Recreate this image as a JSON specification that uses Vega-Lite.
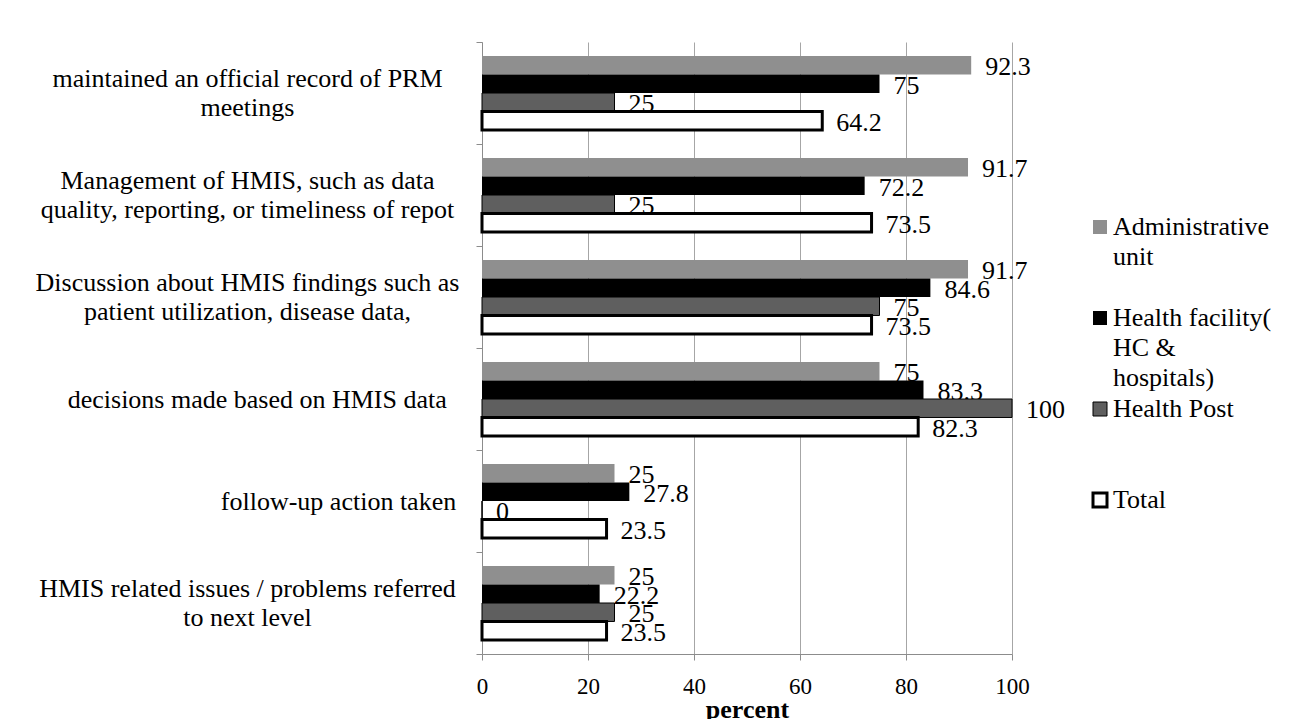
{
  "$schema": "https://vega.github.io/schema/vega-lite/v6.json",
  "width": 530,
  "height": 612,
  "autosize": "none",
  "padding": {"left": 482, "top": 42, "right": 281, "bottom": 65},
  "background": "white",
  "config": {
    "font": "Liberation Serif",
    "view": {"stroke": null},
    "axis": {"labelFont": "Liberation Serif", "titleFont": "Liberation Serif"},
    "legend": {"labelFont": "Liberation Serif", "titleFont": "Liberation Serif"},
    "text": {"font": "Liberation Serif"},
    "style": {"guide-label": {"lineHeight": 30}}
  },
  "data": {"values": [
    {"item": "maintained an official record of PRM meetings", "series": "Administrative unit", "value": 92.3},
    {"item": "maintained an official record of PRM meetings", "series": "Health facility( HC & hospitals)", "value": 75},
    {"item": "maintained an official record of PRM meetings", "series": "Health Post", "value": 25},
    {"item": "maintained an official record of PRM meetings", "series": "Total", "value": 64.2},
    {"item": "Management of HMIS, such as data quality, reporting, or timeliness of repot", "series": "Administrative unit", "value": 91.7},
    {"item": "Management of HMIS, such as data quality, reporting, or timeliness of repot", "series": "Health facility( HC & hospitals)", "value": 72.2},
    {"item": "Management of HMIS, such as data quality, reporting, or timeliness of repot", "series": "Health Post", "value": 25},
    {"item": "Management of HMIS, such as data quality, reporting, or timeliness of repot", "series": "Total", "value": 73.5},
    {"item": "Discussion about HMIS findings such as patient utilization, disease data,", "series": "Administrative unit", "value": 91.7},
    {"item": "Discussion about HMIS findings such as patient utilization, disease data,", "series": "Health facility( HC & hospitals)", "value": 84.6},
    {"item": "Discussion about HMIS findings such as patient utilization, disease data,", "series": "Health Post", "value": 75},
    {"item": "Discussion about HMIS findings such as patient utilization, disease data,", "series": "Total", "value": 73.5},
    {"item": "decisions made based on HMIS data", "series": "Administrative unit", "value": 75},
    {"item": "decisions made based on HMIS data", "series": "Health facility( HC & hospitals)", "value": 83.3},
    {"item": "decisions made based on HMIS data", "series": "Health Post", "value": 100},
    {"item": "decisions made based on HMIS data", "series": "Total", "value": 82.3},
    {"item": "follow-up action taken", "series": "Administrative unit", "value": 25},
    {"item": "follow-up action taken", "series": "Health facility( HC & hospitals)", "value": 27.8},
    {"item": "follow-up action taken", "series": "Health Post", "value": 0},
    {"item": "follow-up action taken", "series": "Total", "value": 23.5},
    {"item": "HMIS related issues / problems referred to next level", "series": "Administrative unit", "value": 25},
    {"item": "HMIS related issues / problems referred to next level", "series": "Health facility( HC & hospitals)", "value": 22.2},
    {"item": "HMIS related issues / problems referred to next level", "series": "Health Post", "value": 25},
    {"item": "HMIS related issues / problems referred to next level", "series": "Total", "value": 23.5}
  ]},
  "encoding": {
    "y": {
      "field": "item", "type": "nominal", "sort": null,
      "scale": {"paddingInner": 0, "paddingOuter": 0},
      "axis": {
        "title": null, "grid": false, "tickBand": "extent",
        "tickSize": 6, "tickColor": "#8c8c8c", "domainColor": "#8c8c8c",
        "labelAlign": "center", "labelPadding": 229, "labelFontSize": 26,
        "labelFont": "Liberation Serif",
        "labelColor": "black", "labelLimit": 1000, "labelLineHeight": 29,
        "labelOffset": {"condition": {"test": "datum.value != 'decisions made based on HMIS data' && datum.value != 'follow-up action taken'", "value": -15}, "value": 0},
        "labelExpr": "!isValid(datum.value) ? '' : datum.value == 'maintained an official record of PRM meetings' ? ['maintained an official record of PRM', 'meetings'] : datum.value == 'Management of HMIS, such as data quality, reporting, or timeliness of repot' ? ['Management of HMIS, such as data', 'quality, reporting, or timeliness of repot'] : datum.value == 'Discussion about HMIS findings such as patient utilization, disease data,' ? ['Discussion about HMIS findings such as', 'patient utilization, disease data,'] : datum.value == 'HMIS related issues / problems referred to next level' ? ['HMIS related issues / problems referred', 'to next level'] : datum.value == 'follow-up action taken' ? '\u200b\u00a0\u00a0\u00a0\u00a0\u00a0\u00a0\u00a0\u00a0\u00a0\u00a0\u00a0\u00a0\u00a0\u00a0\u00a0\u00a0\u00a0\u00a0\u00a0\u00a0\u00a0\u00a0\u00a0\u00a0\u00a0\u00a0\u00a0\u00a0follow-up action taken' : '\u200b\u00a0\u00a0\u00a0' + datum.value"
      }
    },
    "yOffset": {
      "field": "series", "type": "nominal",
      "sort": ["Administrative unit", "Health facility( HC & hospitals)", "Health Post", "Total"],
      "scale": {"paddingInner": 0, "paddingOuter": 0.76}
    },
    "x": {
      "field": "value", "type": "quantitative",
      "scale": {"domain": [0, 100], "nice": false},
      "axis": {
        "title": "percent", "titleFontWeight": "bold", "titleFontSize": 26, "titleColor": "black", "titlePadding": -2,
        "titleFont": "Liberation Serif", "labelFont": "Liberation Serif",
        "values": [0, 20, 40, 60, 80, 100], "grid": true, "gridColor": "#a6a6a6",
        "domainColor": "#8c8c8c", "tickColor": "#8c8c8c", "tickSize": 6,
        "labelFontSize": 23, "labelColor": "black", "labelPadding": 15, "labelFlush": false
      }
    }
  },
  "layer": [
    {
      "mark": {"type": "text", "align": "left", "baseline": "middle", "dx": 14, "dy": 2, "fontSize": 26, "font": "Liberation Serif", "color": "black"},
      "encoding": {"text": {"field": "value", "type": "quantitative", "format": ""}}
    },
    {
      "mark": {"type": "bar", "opacity": 1},
      "encoding": {
        "fill": {
          "field": "series", "type": "nominal",
          "scale": {"domain": ["Administrative unit", "Health facility( HC & hospitals)", "Health Post", "Total"], "range": ["#8f8f8f", "#000000", "#5f5f5f", "#ffffff"]},
          "legend": {
            "orient": "none", "legendX": 605, "legendY": 172, "title": null,
            "symbolType": "square", "symbolSize": 196, "symbolOpacity": 1,
            "labelFontSize": 26, "labelFont": "Liberation Serif", "labelColor": "black", "labelOffset": 0, "labelLimit": 400,
            "labelBaseline": "middle", "padding": 0, "rowPadding": 5, "gridAlign": "all",
            "labelExpr": "datum.label == 'Administrative unit' ? ['Administrative', 'unit'] : datum.label == 'Health facility( HC & hospitals)' ? ['Health facility(', 'HC &', 'hospitals)'] : datum.label"
          }
        },
        "stroke": {
          "field": "series", "type": "nominal",
          "scale": {"domain": ["Administrative unit", "Health facility( HC & hospitals)", "Health Post", "Total"], "range": ["#8f8f8f", "#000000", "#000000", "#000000"]}
        },
        "strokeWidth": {
          "field": "series", "type": "nominal",
          "scale": {"type": "ordinal", "domain": ["Administrative unit", "Health facility( HC & hospitals)", "Health Post", "Total"], "range": [0, 0, 1, 3]}
        }
      }
    }
  ]
}
